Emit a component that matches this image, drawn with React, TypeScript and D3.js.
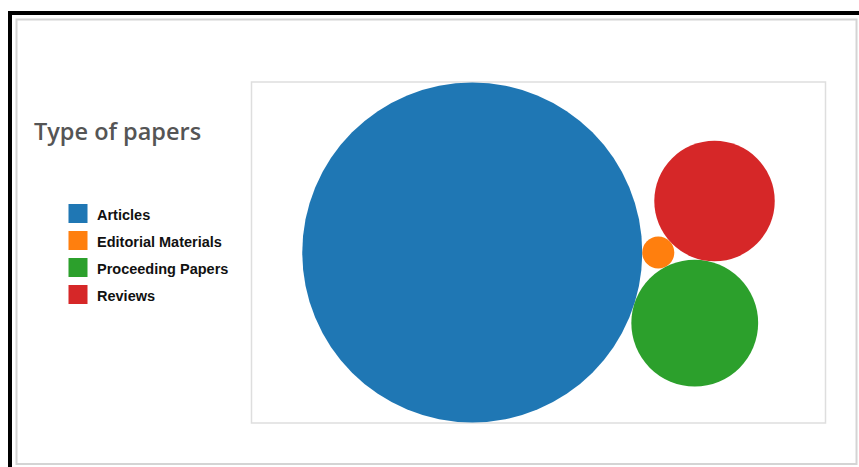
import React from "react";
import * as d3 from "d3";

const categories = ["Articles", "Editorial Materials", "Proceeding Papers", "Reviews"];
const paperCounts = [1689, 15, 235, 212];
const colors = ["#1f77b4", "#ff7f0e", "#2ca02c", "#d62728"];
const title = "Type of papers";
// order in which bubbles are handed to the packing layout
const packOrder = ["Editorial Materials", "Proceeding Papers", "Reviews", "Articles"];

const W = 859;
const H = 467;
const plot = { x0: 251.5, y0: 82, x1: 825.5, y1: 423 };

export default function App() {
  const circles = packOrder.map((c) => {
    const i = categories.indexOf(c);
    return {
      name: c,
      value: paperCounts[i],
      color: colors[i],
      r: Math.sqrt(paperCounts[i]),
      x: 0,
      y: 0,
    };
  });
  d3.packSiblings(circles as any);

  // orient the packing: biggest bubble on the left, aligned with the smallest
  const byName = new Map(circles.map((d) => [d.name, d]));
  const A = byName.get("Articles")!;
  const E = byName.get("Editorial Materials")!;
  const theta = Math.atan2(E.y - A.y, E.x - A.x);
  const cos = Math.cos(-theta);
  const sin = Math.sin(-theta);
  circles.forEach((d) => {
    const x = d.x * cos - d.y * sin;
    const y = d.x * sin + d.y * cos;
    d.x = x;
    d.y = y;
  });
  const P = byName.get("Proceeding Papers")!;
  if (P.y < E.y) circles.forEach((d) => (d.y = -d.y));

  const minX = d3.min(circles, (d) => d.x - d.r)!;
  const maxX = d3.max(circles, (d) => d.x + d.r)!;
  const minY = d3.min(circles, (d) => d.y - d.r)!;
  const maxY = d3.max(circles, (d) => d.y + d.r)!;
  const pw = plot.x1 - plot.x0;
  const ph = plot.y1 - plot.y0;
  const k = Math.min(pw / (maxX - minX), (ph - 1) / (maxY - minY));
  const cx = (plot.x0 + plot.x1) / 2;
  const cy = (plot.y0 + plot.y1) / 2;
  const mx = (minX + maxX) / 2;
  const my = (minY + maxY) / 2;
  const sx = d3.scaleLinear().domain([mx, mx + 1]).range([cx, cx + k]);
  const sy = d3.scaleLinear().domain([my, my + 1]).range([cy, cy + k]);

  const legendY = d3
    .scaleBand()
    .domain(categories)
    .range([203, 203 + 27 * categories.length]);

  return (
    <svg
      width={W}
      height={H}
      style={{ position: "absolute", left: 0, top: 0, background: "#fff" }}
    >
      <rect x={0} y={0} width={W} height={H} fill="#fff" />
      <rect x={8} y={11} width={W - 8} height={4} fill="#000" />
      <rect x={8} y={11} width={4} height={H - 11} fill="#000" />
      <rect
        x={16.5}
        y={19.5}
        width={840}
        height={444.5}
        fill="#fff"
        stroke="#d4d4d4"
        strokeWidth={2}
      />
      <rect
        x={plot.x0}
        y={plot.y0}
        width={pw}
        height={ph}
        fill="#fff"
        stroke="#dedede"
        strokeWidth={1.5}
      />
      {categories.map((c) => {
        const d = byName.get(c)!;
        return (
          <circle key={c} cx={sx(d.x)} cy={sy(d.y)} r={d.r * k} fill={d.color} />
        );
      })}
      <text
        x={34}
        y={139.5}
        fontFamily="'Open Sans', sans-serif"
        fontWeight={600}
        fontSize={23.5}
        fill="#555"
      >
        {title}
      </text>
      {categories.map((c, i) => (
        <g key={c} transform={`translate(0,${legendY(c)})`}>
          <rect x={68.5} y={1} width={19} height={19} fill={colors[i]} />
          <text
            x={97}
            y={16.5}
            fontFamily="'Liberation Sans', Arial, sans-serif"
            fontWeight={700}
            fontSize={14.5}
            fill="#111"
          >
            {c}
          </text>
        </g>
      ))}
    </svg>
  );
}
